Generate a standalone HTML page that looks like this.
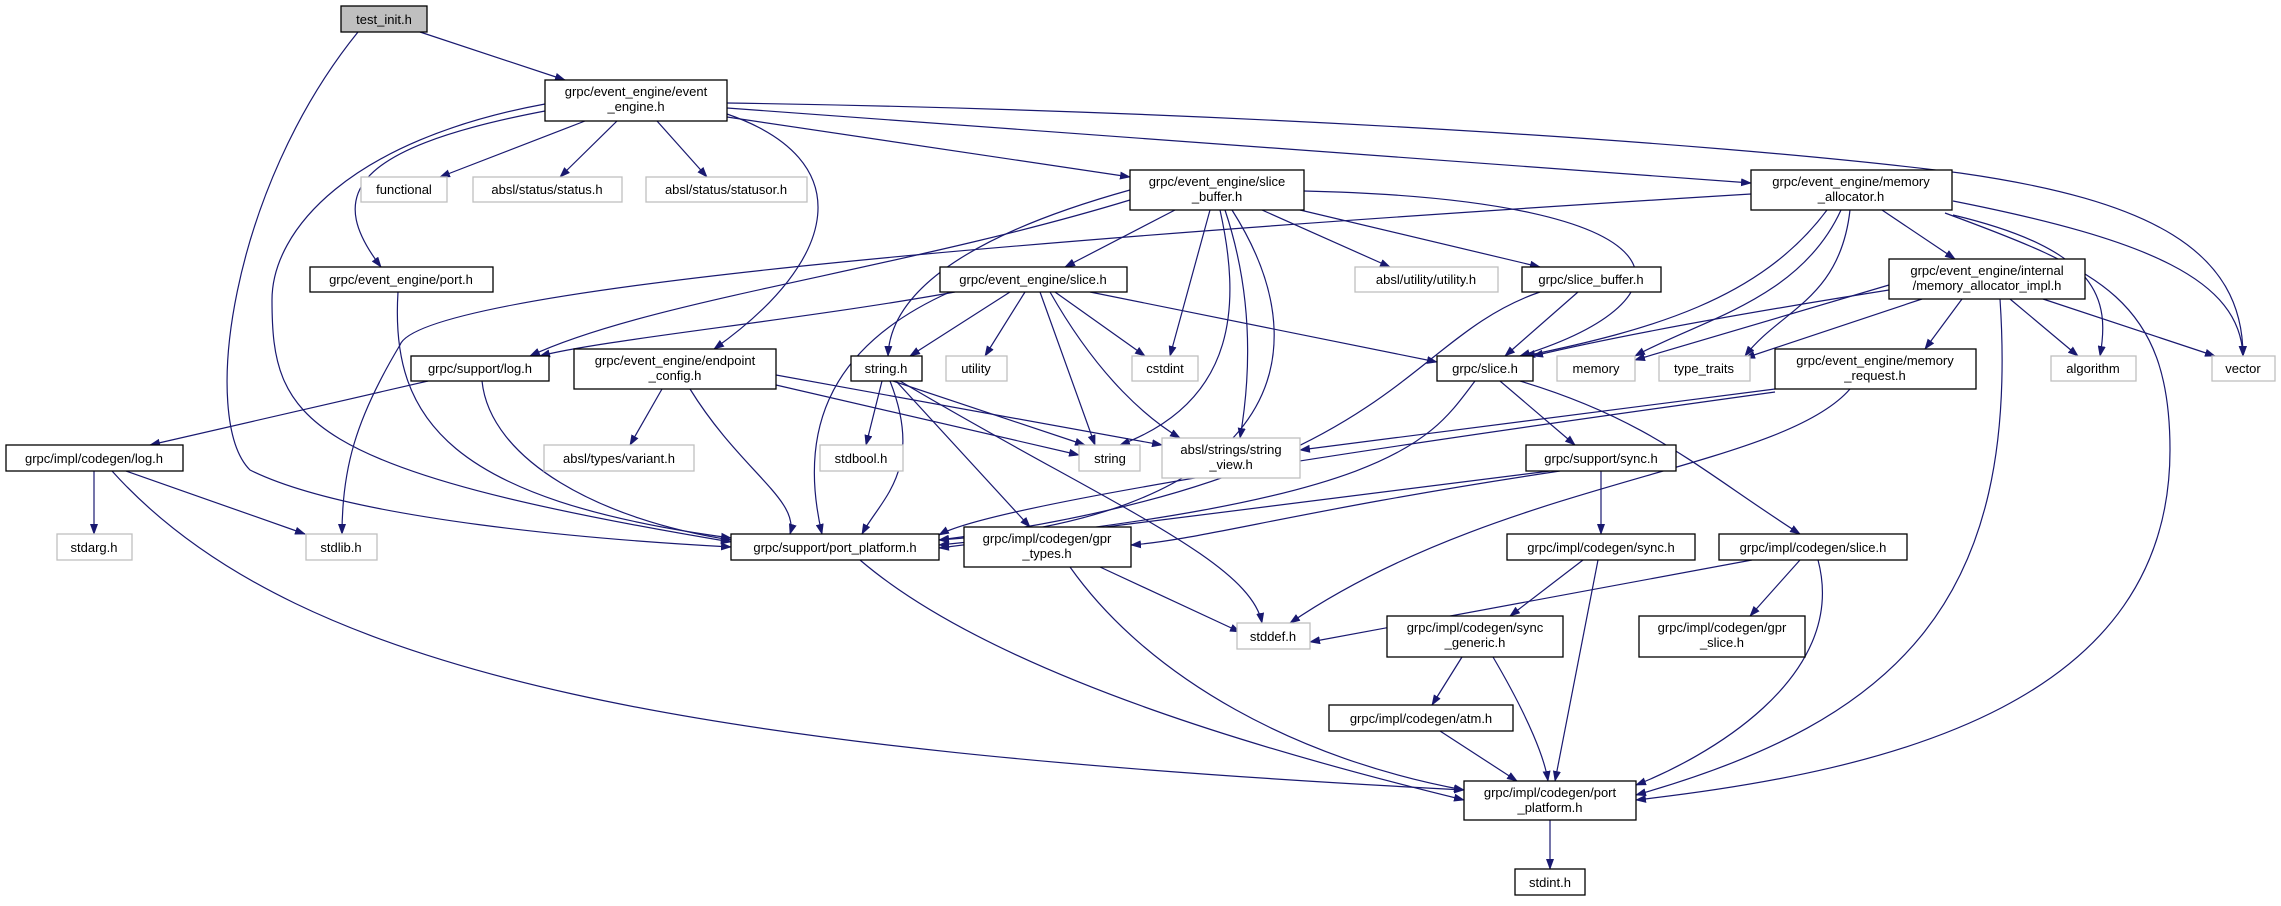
<!DOCTYPE html>
<html><head><meta charset="utf-8"><style>
html,body{margin:0;padding:0;background:#fff;}
svg text{font-family:"Liberation Sans",sans-serif;font-size:13px;fill:#000;text-anchor:middle;}
.n{fill:#fff;stroke:#000;stroke-width:1.3;}
.g{fill:#fff;stroke:#bfbfbf;stroke-width:1.3;}
.e{fill:none;stroke:#191970;stroke-width:1.2;marker-end:url(#ah);}
</style></head><body>
<svg width="2281" height="901" viewBox="0 0 2281 901" xmlns="http://www.w3.org/2000/svg">
<defs><marker id="ah" markerWidth="11" markerHeight="8" refX="10" refY="4" orient="auto" markerUnits="userSpaceOnUse"><path d="M0,0 L11,4 L0,8 z" fill="#191970"/></marker></defs>
<g>
<path class="e" d="M420,32 L565,80"/>
<path class="e" d="M358,32 C230,190 200,420 250,470 C350,520 600,540 731,547"/>
<path class="e" d="M585,121 L440,177"/>
<path class="e" d="M617,121 L560,177"/>
<path class="e" d="M657,121 L707,177"/>
<path class="e" d="M545,111 C340,150 330,200 381,267"/>
<path class="e" d="M545,104 C350,140 272,230 272,300 C272,420 300,470 731,542"/>
<path class="e" d="M727,114 C860,160 840,260 714,349"/>
<path class="e" d="M727,117 L1130,177"/>
<path class="e" d="M727,108 L1751,183"/>
<path class="e" d="M727,103 C1200,110 1700,140 1960,173 C2150,200 2243,250 2243,356"/>
<path class="e" d="M1175,210 L1065,267"/>
<path class="e" d="M1130,200 C900,270 650,300 530,356"/>
<path class="e" d="M1130,190 C950,240 890,300 888,356"/>
<path class="e" d="M1262,210 L1390,267"/>
<path class="e" d="M1300,210 L1540,267"/>
<path class="e" d="M1304,191 C1700,200 1700,300 1520,356"/>
<path class="e" d="M1210,210 L1170,356"/>
<path class="e" d="M1220,210 C1240,300 1240,400 1120,445"/>
<path class="e" d="M1225,210 C1255,300 1250,380 1240,438"/>
<path class="e" d="M1232,210 C1340,380 1240,520 939,540"/>
<path class="e" d="M955,292 C800,320 600,340 540,356"/>
<path class="e" d="M1010,292 L910,356"/>
<path class="e" d="M1025,292 L985,356"/>
<path class="e" d="M1055,292 L1145,356"/>
<path class="e" d="M1040,292 L1095,445"/>
<path class="e" d="M1050,292 C1100,380 1150,420 1180,438"/>
<path class="e" d="M1090,292 L1437,362"/>
<path class="e" d="M950,292 C820,350 800,440 822,534"/>
<path class="e" d="M428,381 L150,445"/>
<path class="e" d="M482,381 C490,460 600,520 731,540"/>
<path class="e" d="M398,292 C390,420 450,500 731,538"/>
<path class="e" d="M662,389 L630,445"/>
<path class="e" d="M690,389 C740,470 800,500 790,534"/>
<path class="e" d="M776,385 L1079,455"/>
<path class="e" d="M776,375 L1162,445"/>
<path class="e" d="M882,381 L866,445"/>
<path class="e" d="M893,381 L1085,445"/>
<path class="e" d="M890,381 C925,470 880,500 862,534"/>
<path class="e" d="M896,381 L1030,527"/>
<path class="e" d="M900,381 C1100,500 1250,560 1262,623"/>
<path class="e" d="M94,471 L94,534"/>
<path class="e" d="M126,471 L305,534"/>
<path class="e" d="M112,471 C300,680 700,750 1464,790"/>
<path class="e" d="M1751,194 C1000,240 420,290 400,345 C355,420 342,470 342,534"/>
<path class="e" d="M860,560 C1000,680 1300,760 1464,800"/>
<path class="e" d="M1100,567 L1240,632"/>
<path class="e" d="M1070,567 C1150,680 1300,760 1464,790"/>
<path class="e" d="M1775,389 L1300,450"/>
<path class="e" d="M1775,392 C1500,430 1000,500 939,535"/>
<path class="e" d="M1850,389 C1780,470 1500,480 1290,623"/>
<path class="e" d="M1500,381 L1575,445"/>
<path class="e" d="M1520,381 C1650,420 1700,470 1800,534"/>
<path class="e" d="M1475,381 C1430,440 1400,500 939,545"/>
<path class="e" d="M1578,292 L1505,356"/>
<path class="e" d="M1540,292 C1400,340 1400,480 939,540"/>
<path class="e" d="M1601,471 L1601,534"/>
<path class="e" d="M1550,471 L939,548"/>
<path class="e" d="M1560,471 C1300,510 1200,540 1131,545"/>
<path class="e" d="M1583,560 L1510,616"/>
<path class="e" d="M1598,560 L1555,781"/>
<path class="e" d="M1752,560 L1310,642"/>
<path class="e" d="M1800,560 L1750,616"/>
<path class="e" d="M1818,560 C1850,680 1700,760 1636,785"/>
<path class="e" d="M1462,657 L1432,705"/>
<path class="e" d="M1493,657 C1530,720 1545,760 1548,781"/>
<path class="e" d="M1440,731 L1517,781"/>
<path class="e" d="M1550,820 L1550,869"/>
<path class="e" d="M1827,210 C1760,300 1650,330 1525,356"/>
<path class="e" d="M1841,210 C1800,300 1700,320 1635,356"/>
<path class="e" d="M1850,210 C1840,300 1780,310 1745,356"/>
<path class="e" d="M1882,210 L1955,259"/>
<path class="e" d="M1953,215 C2100,250 2110,300 2100,356"/>
<path class="e" d="M1953,201 C2150,240 2240,280 2243,356"/>
<path class="e" d="M1945,213 C2100,270 2170,300 2170,450 C2170,700 1900,770 1636,800"/>
<path class="e" d="M1889,290 C1700,320 1600,340 1533,356"/>
<path class="e" d="M1889,285 L1635,360"/>
<path class="e" d="M1922,299 L1745,358"/>
<path class="e" d="M1962,299 L1925,349"/>
<path class="e" d="M2010,299 L2078,356"/>
<path class="e" d="M2043,299 L2215,356"/>
<path class="e" d="M2000,299 C2020,600 1900,720 1636,795"/>
</g>
<g>
<rect x="341" y="6" width="86" height="26" fill="#bfbfbf" stroke="#000" stroke-width="1.3"/><text x="384" y="24">test_init.h</text>
<rect class="n" x="545" y="80" width="182" height="41"/><text x="636" y="96">grpc/event_engine/event</text><text x="636" y="111">_engine.h</text>
<rect class="g" x="361" y="177" width="86" height="25"/><text x="404" y="194">functional</text>
<rect class="g" x="473" y="177" width="149" height="25"/><text x="547" y="194">absl/status/status.h</text>
<rect class="g" x="646" y="177" width="161" height="25"/><text x="726" y="194">absl/status/statusor.h</text>
<rect class="n" x="310" y="267" width="183" height="25"/><text x="401" y="284">grpc/event_engine/port.h</text>
<rect class="n" x="940" y="267" width="187" height="25"/><text x="1033" y="284">grpc/event_engine/slice.h</text>
<rect class="n" x="411" y="356" width="138" height="25"/><text x="480" y="373">grpc/support/log.h</text>
<rect class="n" x="574" y="349" width="202" height="40"/><text x="675" y="365">grpc/event_engine/endpoint</text><text x="675" y="380">_config.h</text>
<rect class="n" x="851" y="356" width="71" height="25"/><text x="886" y="373">string.h</text>
<rect class="g" x="946" y="356" width="61" height="25"/><text x="976" y="373">utility</text>
<rect class="g" x="1132" y="356" width="66" height="25"/><text x="1165" y="373">cstdint</text>
<rect class="n" x="1130" y="170" width="174" height="40"/><text x="1217" y="186">grpc/event_engine/slice</text><text x="1217" y="201">_buffer.h</text>
<rect class="n" x="1751" y="170" width="201" height="40"/><text x="1851" y="186">grpc/event_engine/memory</text><text x="1851" y="201">_allocator.h</text>
<rect class="g" x="1355" y="267" width="143" height="25"/><text x="1426" y="284">absl/utility/utility.h</text>
<rect class="n" x="1522" y="267" width="139" height="25"/><text x="1591" y="284">grpc/slice_buffer.h</text>
<rect class="n" x="1889" y="259" width="196" height="40"/><text x="1987" y="275">grpc/event_engine/internal</text><text x="1987" y="290">/memory_allocator_impl.h</text>
<rect class="n" x="1437" y="356" width="96" height="25"/><text x="1485" y="373">grpc/slice.h</text>
<rect class="g" x="1557" y="356" width="78" height="25"/><text x="1596" y="373">memory</text>
<rect class="g" x="1659" y="356" width="91" height="25"/><text x="1704" y="373">type_traits</text>
<rect class="n" x="1775" y="349" width="201" height="40"/><text x="1875" y="365">grpc/event_engine/memory</text><text x="1875" y="380">_request.h</text>
<rect class="g" x="2051" y="356" width="85" height="25"/><text x="2093" y="373">algorithm</text>
<rect class="g" x="2212" y="356" width="63" height="25"/><text x="2243" y="373">vector</text>
<rect class="n" x="6" y="445" width="177" height="26"/><text x="94" y="463">grpc/impl/codegen/log.h</text>
<rect class="g" x="57" y="534" width="75" height="26"/><text x="94" y="552">stdarg.h</text>
<rect class="g" x="306" y="534" width="71" height="26"/><text x="341" y="552">stdlib.h</text>
<rect class="n" x="731" y="534" width="208" height="26"/><text x="835" y="552">grpc/support/port_platform.h</text>
<rect class="g" x="544" y="445" width="150" height="26"/><text x="619" y="463">absl/types/variant.h</text>
<rect class="g" x="820" y="445" width="83" height="26"/><text x="861" y="463">stdbool.h</text>
<rect class="g" x="1079" y="445" width="61" height="26"/><text x="1110" y="463">string</text>
<rect class="n" x="964" y="527" width="167" height="40"/><text x="1047" y="543">grpc/impl/codegen/gpr</text><text x="1047" y="558">_types.h</text>
<rect class="g" x="1162" y="438" width="138" height="40"/><text x="1231" y="454">absl/strings/string</text><text x="1231" y="469">_view.h</text>
<rect class="n" x="1526" y="445" width="150" height="26"/><text x="1601" y="463">grpc/support/sync.h</text>
<rect class="n" x="1507" y="534" width="188" height="26"/><text x="1601" y="552">grpc/impl/codegen/sync.h</text>
<rect class="n" x="1719" y="534" width="188" height="26"/><text x="1813" y="552">grpc/impl/codegen/slice.h</text>
<rect class="g" x="1237" y="623" width="73" height="26"/><text x="1273" y="641">stddef.h</text>
<rect class="n" x="1387" y="616" width="176" height="41"/><text x="1475" y="632">grpc/impl/codegen/sync</text><text x="1475" y="647">_generic.h</text>
<rect class="n" x="1639" y="616" width="166" height="41"/><text x="1722" y="632">grpc/impl/codegen/gpr</text><text x="1722" y="647">_slice.h</text>
<rect class="n" x="1329" y="705" width="184" height="26"/><text x="1421" y="723">grpc/impl/codegen/atm.h</text>
<rect class="n" x="1464" y="781" width="172" height="39"/><text x="1550" y="797">grpc/impl/codegen/port</text><text x="1550" y="812">_platform.h</text>
<rect class="n" x="1515" y="869" width="70" height="26"/><text x="1550" y="887">stdint.h</text>
</g>
</svg>
</body></html>
